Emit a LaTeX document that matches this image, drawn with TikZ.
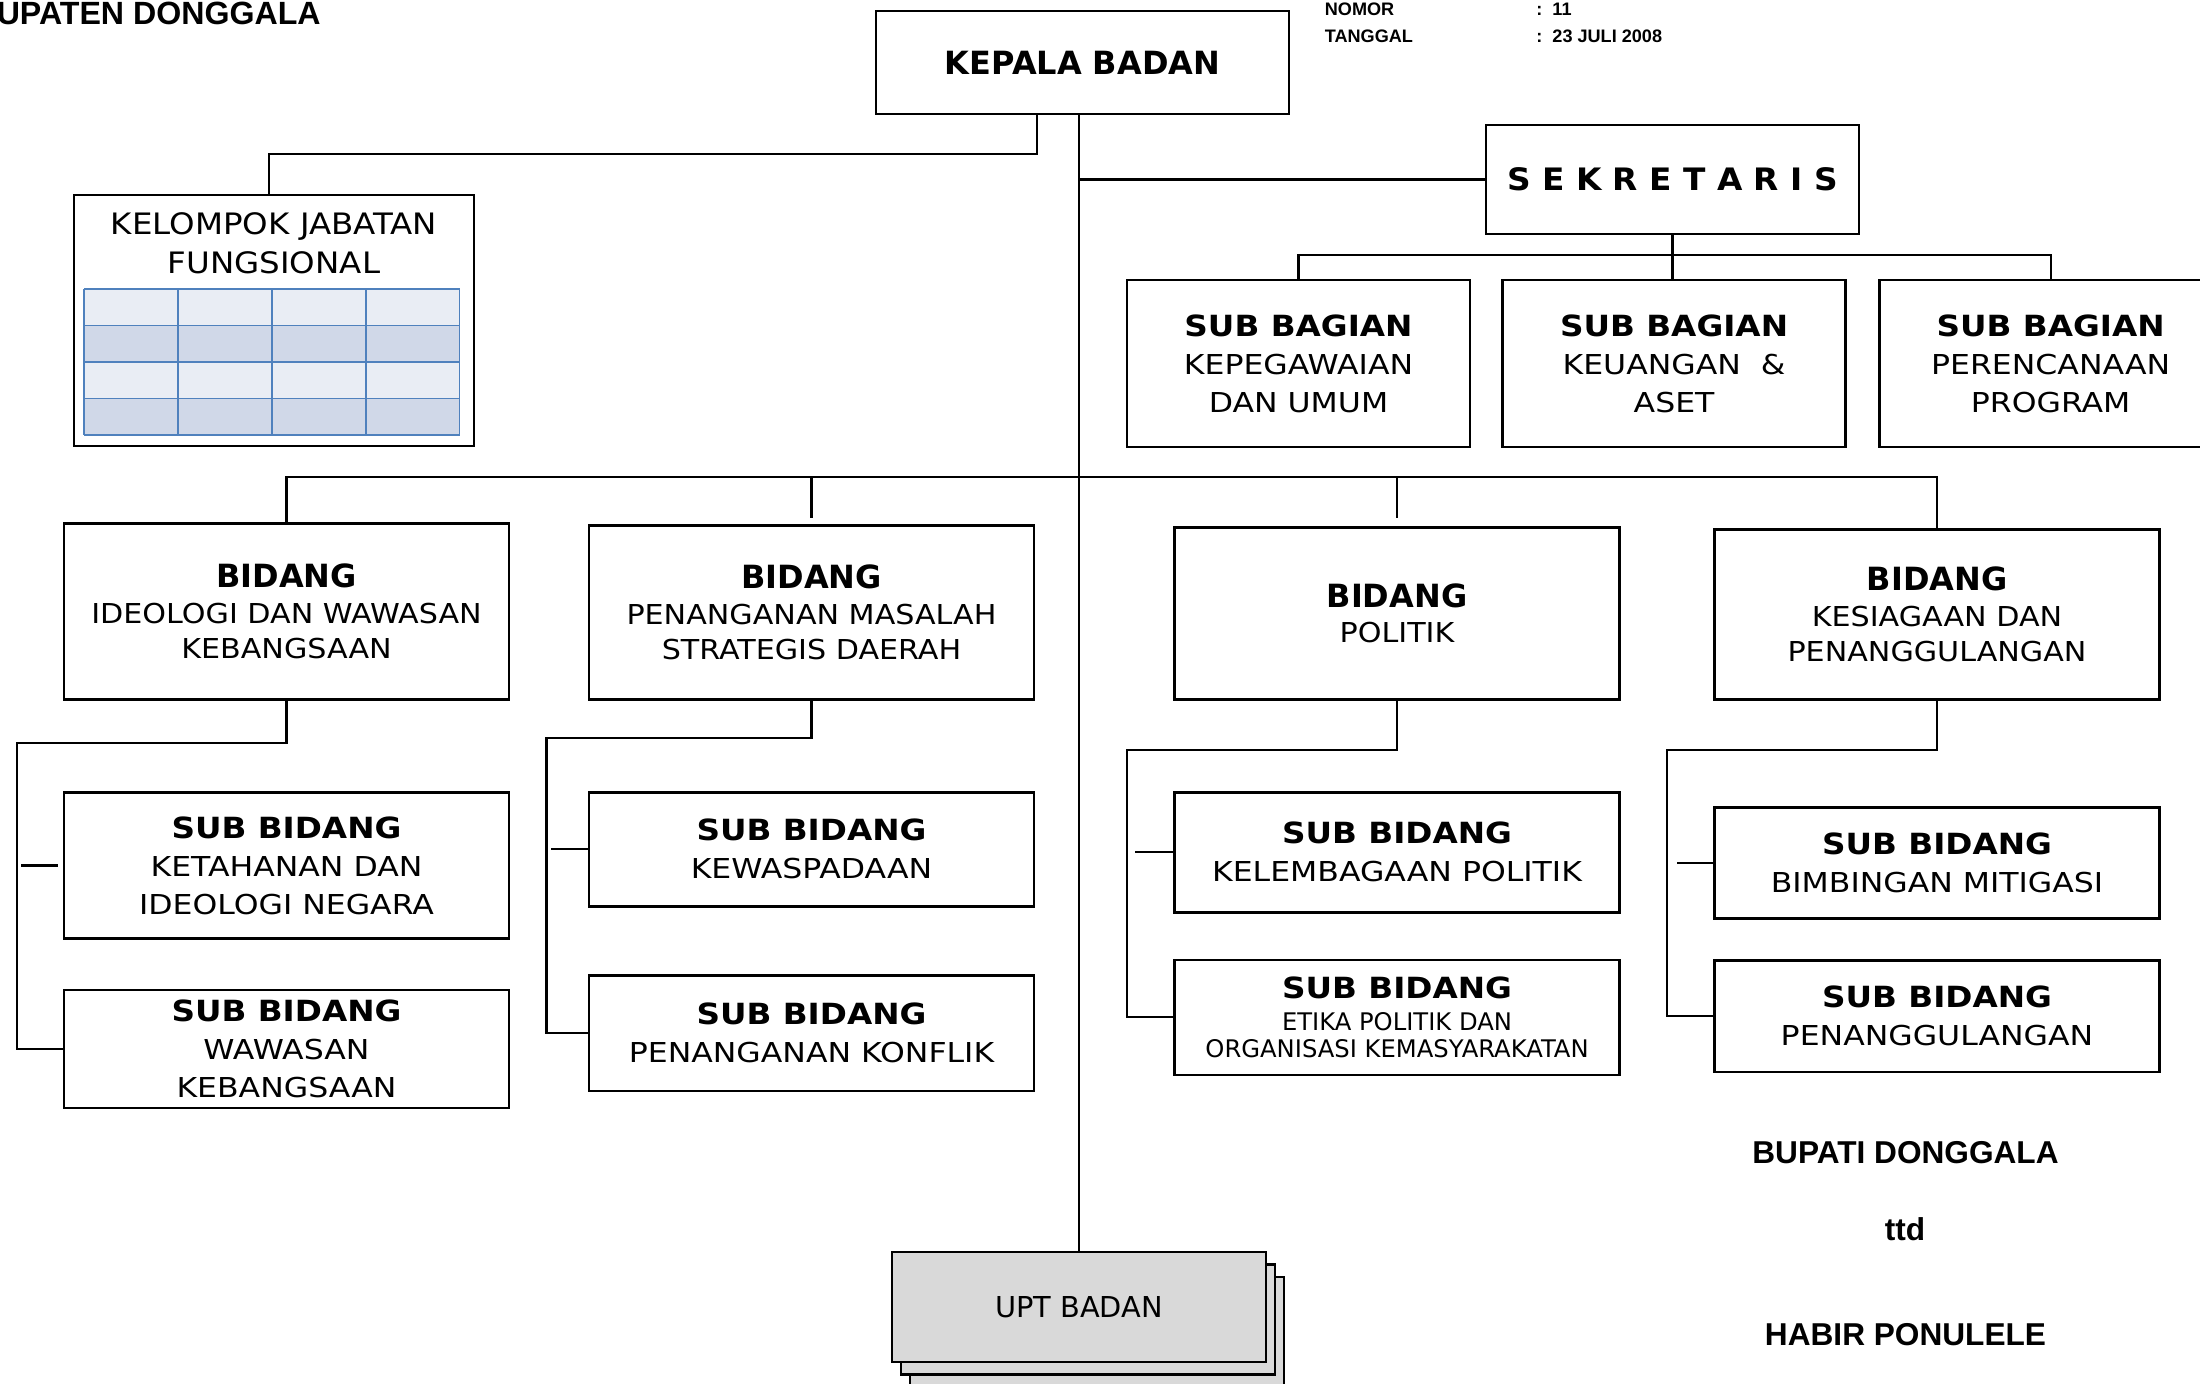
\documentclass[tikz,border=0pt]{standalone}
\usepackage{fontspec}
\setmainfont{DejaVu Sans}
\newfontfamily\regfont{DejaVu Sans}[FakeStretch=1.10]
\newfontfamily\subfont{DejaVu Sans}[FakeStretch=1.15]
\newfontfamily\subhdfont{DejaVu Sans}[FakeStretch=1.12]
\newfontfamily\sekfont{DejaVu Sans}[FakeStretch=1.06]
\newfontfamily\arialfont{Liberation Sans}
\usetikzlibrary{positioning}
\definecolor{gridlight}{HTML}{E9EDF4}
\definecolor{griddark}{HTML}{D0D8E8}
\definecolor{gridline}{HTML}{4F81BD}
\definecolor{uptgray}{HTML}{D9D9D9}
\tikzset{
    box/.style={rectangle,draw=black,line width=1.5pt,text centered,align=center,inner sep=0pt},
    topbox/.style={box,font=\fontsize{18.2}{22}\selectfont\bfseries},
    bidangbox/.style={box,minimum width=8.9cm,anchor=south,font=\regfont\fontsize{15.6}{20.2}\selectfont},
    subbox/.style={box,font=\subfont\fontsize{15.6}{21.6}\selectfont},
    subbidang/.style={subbox,minimum width=8.9cm},
    uptbox/.style={box,fill=uptgray,minimum width=7.48cm,minimum height=2.2cm,font=\fontsize{16.4}{20}\selectfont},
    link/.style={line width=1.2pt},
    arialtx/.style={inner sep=0pt,font=\arialfont\bfseries\fontsize{18}{20}\selectfont},
    metatx/.style={inner sep=0pt,anchor=base west,font=\arialfont\bfseries\fontsize{10.3}{12}\selectfont},
}
\newcommand{\bidhd}[1]{{\normalfont\fontsize{18.2}{20.2}\selectfont\bfseries #1}}
\newcommand{\subhd}[1]{{\subhdfont\fontsize{16.6}{21.6}\selectfont\bfseries #1}}
\newcommand{\smalltx}{\normalfont\fontsize{13.8}{15}\selectfont}

\begin{document}
\begin{tikzpicture}[x=0.02cm,y=-0.02cm]
\path[fill=white,use as bounding box] (0,0) rectangle (2200,1383);

% header
\node[arialtx,anchor=base east,font=\arialfont\bfseries\fontsize{18.3}{20}\selectfont] (kab) at (321,24) {UPATEN DONGGALA};
\node[metatx] (nomor) at (1324.5,15) {NOMOR};
\node[metatx] (tgl) at (1324.5,42) {TANGGAL};
\node[metatx] (nomorval) at (1536,15) {:\ \ 11};
\node[metatx] (tglval) at (1536,42) {:\ \ 23 JULI 2008};

% pimpinan
\node[topbox,minimum width=8.26cm,minimum height=2.06cm] (kepala) at (1082.5,62.5) {KEPALA BADAN};
\node[box,minimum width=7.46cm,minimum height=2.18cm,font=\sekfont\fontsize{17.6}{20}\selectfont\bfseries] (sekre) at (1672.5,179.5) {S E K R E T A R I S};

% kelompok jabatan fungsional
\node[box,minimum width=8cm,minimum height=5.02cm] (kjf) at (274,320.5) {};
\node[anchor=north,inner sep=0pt,align=center,font=\regfont\fontsize{16.8}{22.2}\selectfont] (kjftext) at ([yshift=-0.38cm]kjf.north) {KELOMPOK JABATAN\\FUNGSIONAL};
\foreach \r/\c in {0/gridlight,1/griddark,2/gridlight,3/griddark}
    \fill[\c] (84,{289+36.5*\r}) rectangle (459.5,{325.5+36.5*\r});
\foreach \i in {0,...,4} {
    \draw[gridline,line width=1.1pt] ({84+93.875*\i},289) -- ++(0,146);
    \draw[gridline,line width=1.1pt] (84,{289+36.5*\i}) -- ++(375.5,0);
}

% sub bagian
\node[subbox,minimum width=6.86cm,minimum height=3.34cm] (sbag1) at (1298.5,363.5) {\subhd{SUB BAGIAN}\\KEPEGAWAIAN\\DAN UMUM};
\node[subbox,minimum width=6.86cm,minimum height=3.34cm,right=0.6cm of sbag1] (sbag2) {\subhd{SUB BAGIAN}\\KEUANGAN\ \ \&\\ASET};
\node[subbox,minimum width=6.86cm,minimum height=3.34cm,right=0.62cm of sbag2] (sbag3) {\subhd{SUB BAGIAN}\\PERENCANAAN\\PROGRAM};

% bidang
\node[bidangbox,minimum height=3.53cm] (bid1) at (286.5,701) {\bidhd{BIDANG}\\IDEOLOGI DAN WAWASAN\\KEBANGSAAN};
\node[bidangbox,minimum height=3.49cm] (bid2) at (811.5,701) {\bidhd{BIDANG}\\PENANGANAN MASALAH\\STRATEGIS DAERAH};
\node[bidangbox,minimum height=3.45cm] (bid3) at (1397,701) {\bidhd{BIDANG}\\POLITIK};
\node[bidangbox,minimum height=3.41cm] (bid4) at (1937,701) {\bidhd{BIDANG}\\KESIAGAAN DAN\\PENANGGULANGAN};

% sub bidang
\node[subbidang,minimum height=2.93cm,below=1.8cm of bid1] (sb11) {\subhd{SUB BIDANG}\\KETAHANAN DAN\\IDEOLOGI NEGARA};
\node[subbidang,minimum height=2.36cm,below=0.97cm of sb11] (sb12) {\subhd{SUB BIDANG}\\WAWASAN\\KEBANGSAAN};
\node[subbidang,minimum height=2.28cm,below=1.8cm of bid2] (sb21) {\subhd{SUB BIDANG}\\KEWASPADAAN};
\node[subbidang,minimum height=2.31cm,below=1.33cm of sb21] (sb22) {\subhd{SUB BIDANG}\\PENANGANAN KONFLIK};
\node[subbidang,minimum height=2.40cm,below=1.8cm of bid3] (sb31) {\subhd{SUB BIDANG}\\KELEMBAGAAN POLITIK};
\node[subbidang,minimum height=2.30cm,below=0.9cm of sb31] (sb32) {\subhd{SUB BIDANG}\\[-3.2pt]{\smalltx ETIKA POLITIK DAN}\\[-6.2pt]{\smalltx ORGANISASI KEMASYARAKATAN}};
\node[subbidang,minimum height=2.22cm,below=2.11cm of bid4] (sb41) {\subhd{SUB BIDANG}\\BIMBINGAN MITIGASI};
\node[subbidang,minimum height=2.23cm,below=0.78cm of sb41] (sb42) {\subhd{SUB BIDANG}\\PENANGGULANGAN};

% UPT
\node[uptbox] (upt3) at (1097,1332) {};
\node[uptbox] (upt2) at (1088,1319.5) {};
\node[uptbox] (upt) at (1079,1307) {UPT BADAN};

% pengesahan
\node[arialtx,anchor=base] (bupati) at (1905.5,1163.3) {BUPATI DONGGALA};
\node[arialtx,anchor=base] (ttd) at (1905,1240.7) {ttd};
\node[arialtx,anchor=base] (nama) at (1905.5,1345.7) {HABIR PONULELE};

% garis
\coordinate (kf) at (1037,154);
\draw[link] (kepala.south -| kf) -- (kf) -| ([xshift=-0.1cm]kjf.north);
\draw[link] (upt.north |- kepala.south) -- (upt.north);
\draw[link] (upt.north |- sekre.west) -- (sekre.west);

\coordinate (sbar) at (0,255);
\draw[link] (sekre.south) -- (sekre.south |- sbag2.north);
\draw[link] (sbag1.north) |- (sbag3.north |- sbar) -- (sbag3.north);

\coordinate (bbar) at (0,477);
\draw[link] (bid1.north) |- (bid4.north |- bbar) -- (bid4.north);
\draw[link,shorten >=0.11cm] (bid2.north |- bbar) -- (bid2.north);
\draw[link,shorten >=0.15cm] (bid3.north |- bbar) -- (bid3.north);

\coordinate (v1) at (16.8,743);
\draw[link] (bid1.south) |- (v1) |- (sb12.west);
\draw[link,shorten <=0.1cm,shorten >=0.08cm] (sb11.west) -- (sb11.west -| v1);
\coordinate (v2) at (546.5,737.8);
\draw[link] (bid2.south) |- (v2) |- (sb22.west);
\draw[link,shorten >=0.08cm] (sb21.west) -- (sb21.west -| v2);
\coordinate (v3) at (1126.7,750.4);
\draw[link] (bid3.south) |- (v3) |- (sb32.west);
\draw[link,shorten >=0.16cm] (sb31.west) -- (sb31.west -| v3);
\coordinate (v4) at (1666.8,750.4);
\draw[link] (bid4.south) |- (v4) |- (sb42.west);
\draw[link,shorten >=0.2cm] (sb41.west) -- (sb41.west -| v4);
\end{tikzpicture}
\end{document}
